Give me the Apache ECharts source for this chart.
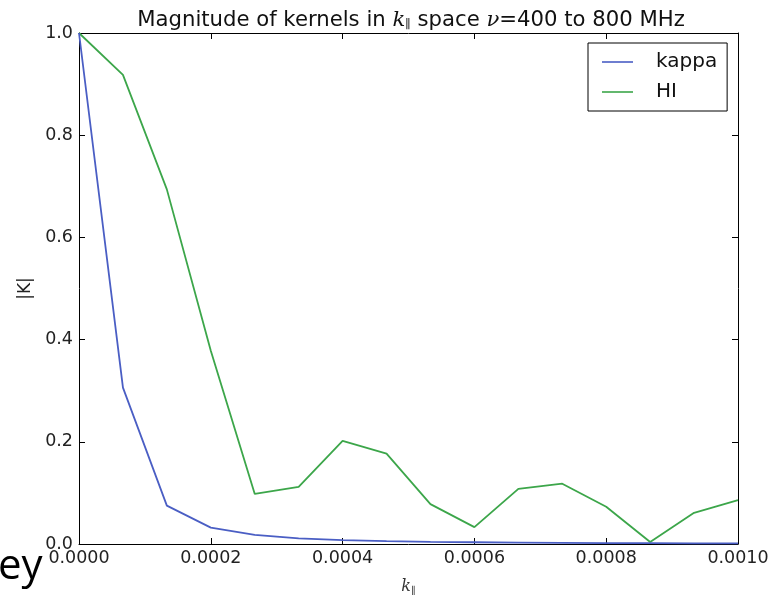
<!DOCTYPE html>
<html>
<head>
<meta charset="utf-8">
<script src="https://cdn.jsdelivr.net/npm/echarts@6/dist/echarts.min.js"></script>
<style>
  html, body { margin: 0; padding: 0; background: #fff; }
  #chart { width: 782px; height: 596px; }
</style>
</head>
<body>
<div id="chart"></div>
<script>
// k_parallel sample positions
const kValues = [0, 0.0000667, 0.0001333, 0.0002, 0.0002667, 0.0003333, 0.0004, 0.0004667,
                 0.0005333, 0.0006, 0.0006667, 0.0007333, 0.0008, 0.0008667, 0.0009333, 0.001];
// kernel magnitudes
const kappaValues = [1.0, 0.306, 0.075, 0.032, 0.018, 0.011, 0.0075, 0.0055,
                     0.0042, 0.0034, 0.0028, 0.0023, 0.0019, 0.0016, 0.0014, 0.0012];
const hiValues = [1.0, 0.918, 0.694, 0.378, 0.098, 0.112, 0.202, 0.177,
                  0.078, 0.033, 0.108, 0.118, 0.073, 0.004, 0.061, 0.086];
const xTicks = { min: 0, max: 0.001, step: 0.0002 };
const yTicks = { min: 0, max: 1, step: 0.2 };

const pair = (xs, ys) => xs.map((x, i) => [x, ys[i]]);

const font = 'DejaVu Sans';
const axisCommon = {
  axisLine: { show: true, onZero: false, lineStyle: { color: '#000', width: 1 } },
  axisTick: { show: true, inside: true, length: 6, lineStyle: { color: '#000' } },
  splitLine: { show: false }
};

const chart = echarts.init(document.getElementById('chart'), null, { renderer: 'canvas' });
chart.setOption({
  animation: false,
  backgroundColor: '#fff',
  title: {
    text: 'Magnitude of kernels in {it|k}{sub|∥} space {it|ν}=400 to 800 MHz',
    left: 406, textAlign: 'center', top: 4,
    textStyle: {
      fontFamily: font, fontSize: 21.2, fontWeight: 'normal', color: '#111',
      rich: {
        it: { fontFamily: 'DejaVu Serif', fontStyle: 'italic', fontSize: 21.2, color: '#111' },
        sub: { fontFamily: 'DejaVu Serif', fontSize: 12, color: '#111', verticalAlign: 'bottom', padding: [10, 0, 0, 0] }
      }
    }
  },
  grid: { left: 79, right: 44, top: 33, bottom: 52, outerBoundsMode: 'none', containLabel: false },
  legend: {
    orient: 'vertical', left: 588, top: 43,
    padding: [9, 10, 9, 14], itemGap: 10, itemWidth: 31, itemHeight: 1.6,
    icon: 'rect',
    borderColor: '#000', borderWidth: 1, backgroundColor: '#fff',
    textStyle: { fontFamily: font, fontSize: 20, color: '#111', padding: [0, 0, 0, 18], lineHeight: 20 },
    data: ['kappa', 'HI']
  },
  xAxis: [
    Object.assign({
      type: 'value', min: xTicks.min, max: xTicks.max, interval: xTicks.step,
      axisLabel: { fontFamily: font, fontSize: 17.5, color: '#222', margin: 5,
                   formatter: v => v.toFixed(4) },
      name: '{it|k}{sub|∥}', nameLocation: 'middle', nameGap: 33,
      nameTextStyle: {
        rich: {
          it: { fontFamily: 'DejaVu Serif', fontStyle: 'italic', fontSize: 16, color: '#333' },
          sub: { fontFamily: 'DejaVu Serif', fontSize: 10, color: '#333', verticalAlign: 'bottom', padding: [9, 0, 0, 0] }
        }
      }
    }, axisCommon),
    Object.assign({
      type: 'value', position: 'top', min: xTicks.min, max: xTicks.max, interval: xTicks.step,
      axisLabel: { show: false }
    }, axisCommon)
  ],
  yAxis: [
    Object.assign({
      type: 'value', min: yTicks.min, max: yTicks.max, interval: yTicks.step,
      axisLabel: { fontFamily: font, fontSize: 17.5, color: '#222', margin: 6,
                   formatter: v => v.toFixed(1) },
      name: '|K|', nameLocation: 'middle', nameGap: 41, nameRotate: 90,
      nameTextStyle: { fontFamily: font, fontSize: 17, color: '#222' }
    }, axisCommon),
    Object.assign({
      type: 'value', position: 'right', min: yTicks.min, max: yTicks.max, interval: yTicks.step,
      axisLabel: { show: false }
    }, axisCommon)
  ],
  series: [
    {
      name: 'kappa', type: 'line', symbol: 'none', data: pair(kValues, kappaValues),
      lineStyle: { color: '#4a5ec4', width: 1.8 }, itemStyle: { color: '#4a5ec4' }, z: 3
    },
    {
      name: 'HI', type: 'line', symbol: 'none', data: pair(kValues, hiValues),
      lineStyle: { color: '#3ca64a', width: 1.8 }, itemStyle: { color: '#3ca64a' }, z: 2
    }
  ],
  graphic: [
    {
      type: 'text', left: -2, top: 546, silent: true,
      style: { text: 'ey', fontFamily: 'Open Sans', fontSize: 42, fill: '#000' }
    }
  ]
});
</script>
</body>
</html>
